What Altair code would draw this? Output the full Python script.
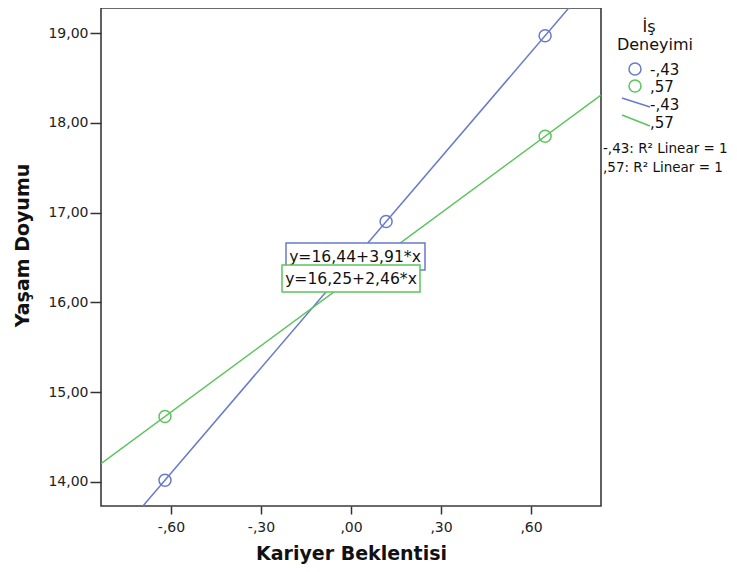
import altair as alt
import pandas as pd

# ---- data ----
groups = ["-,43", ",57"]
colors = ["#6a7acb", "#5cc45c"]
blue_x = [-0.62, 0.117, 0.647]
blue_y = [14.02, 16.90, 18.97]
green_x = [-0.62, 0.647]
green_y = [14.73, 17.85]
intercepts = [16.44, 16.25]
slopes = [3.91, 2.46]
r2 = [1, 1]
legend_title = ["İş", "Deneyimi"]
x_ticks = [-0.6, -0.3, 0.0, 0.3, 0.6]
y_ticks = [14, 15, 16, 17, 18, 19]
x_domain = [-0.8333, 0.8333]
y_domain = [13.7327, 19.2784]

FONT = "DejaVu Sans"

pts = pd.DataFrame({
    "x": blue_x + green_x,
    "y": blue_y + green_y,
    "g": [groups[0]] * len(blue_x) + [groups[1]] * len(green_x),
})

xscale = alt.Scale(domain=x_domain, nice=False, zero=False)
yscale = alt.Scale(domain=y_domain, nice=False, zero=False)
cscale = alt.Scale(domain=groups, range=colors)

x_axis = alt.Axis(
    values=x_ticks,
    labelExpr="replace(replace(format(datum.value, '.2f'), '−', '-'), '0.', ',')",
    grid=False, domain=False, tickSize=8, tickWidth=1.5, tickColor="#333",
    labelFont=FONT, labelFontSize=14, labelColor="#222", labelPadding=6,
    titleFont=FONT, titleFontSize=19, titleFontWeight="bold", titleColor="#111",
    titlePadding=10,
)
y_axis = alt.Axis(
    values=y_ticks,
    labelExpr="replace(format(datum.value, '.2f'), '.', ',')",
    grid=False, domain=False, tickSize=11, tickWidth=1.5, tickColor="#333",
    labelFont=FONT, labelFontSize=14, labelColor="#222", labelPadding=2,
    titleFont=FONT, titleFontSize=19, titleFontWeight="bold", titleColor="#111",
    titlePadding=15, titleY=237,
)

lines = alt.Chart(pts).transform_regression(
    "x", "y", groupby=["g"], extent=x_domain
).mark_line(clip=True, strokeWidth=1.5).encode(
    x=alt.X("x:Q", scale=xscale, axis=x_axis, title="Kariyer Beklentisi"),
    y=alt.Y("y:Q", scale=yscale, axis=y_axis, title="Yaşam Doyumu"),
    stroke=alt.Stroke("g:N", scale=cscale, legend=None),
)

points = alt.Chart(pts).mark_point(
    shape="circle", filled=False, size=144, strokeWidth=1.5, opacity=1
).encode(
    x=alt.X("x:Q", scale=xscale),
    y=alt.Y("y:Q", scale=yscale),
    color=alt.Color("g:N", scale=cscale, legend=None),
)

# regression equation labels
eq_labels = [f"y={a:.2f}+{b:.2f}*x".replace(".", ",") for a, b in zip(intercepts, slopes)]
box_px = [(185, 324, 235, 262), (181, 319, 257, 284)]
txt_px = [(254, 249), (250, 271)]

ann_layers = []
for lab, col, (bx1, bx2, by1, by2), (tx, ty) in zip(eq_labels, colors, box_px, txt_px):
    d = pd.DataFrame({"t": [lab]})
    box = alt.Chart(d).mark_rect(fill="white", stroke=col, strokeWidth=1.5).encode(
        x=alt.value(bx1), x2=alt.value(bx2), y=alt.value(by1), y2=alt.value(by2))
    txt = alt.Chart(d).mark_text(font=FONT, fontSize=15.6, color="#111",
                                 align="center", baseline="middle").encode(
        x=alt.value(tx), y=alt.value(ty), text="t:N")
    ann_layers += [box, txt]

# legend (drawn outside the plot area, to the right)
leg_layers = []
for t, bx, by in zip(legend_title, [548, 554], [24, 41.5]):
    leg_layers.append(alt.Chart(pd.DataFrame({"t": [t]})).mark_text(
        font=FONT, fontSize=16, color="#111", align="center", baseline="alphabetic"
    ).encode(x=alt.value(bx), y=alt.value(by), text="t:N"))
for g, c, cy, ly in zip(groups, colors, [61, 78], [67, 84]):
    d = pd.DataFrame({"t": [g]})
    leg_layers.append(alt.Chart(d).mark_point(
        shape="circle", filled=False, size=144, strokeWidth=1.5, color=c, opacity=1
    ).encode(x=alt.value(534), y=alt.value(cy)))
    leg_layers.append(alt.Chart(d).mark_text(
        font=FONT, fontSize=15, color="#111", align="left", baseline="alphabetic"
    ).encode(x=alt.value(549), y=alt.value(ly), text="t:N"))
for g, c, (y1, y2), ly in zip(groups, colors, [(90, 99), (107, 118)], [102, 120]):
    d = pd.DataFrame({"t": [g]})
    leg_layers.append(alt.Chart(d).mark_rule(strokeWidth=1.5, color=c).encode(
        x=alt.value(521), x2=alt.value(549), y=alt.value(y1), y2=alt.value(y2)))
    leg_layers.append(alt.Chart(d).mark_text(
        font=FONT, fontSize=15, color="#111", align="left", baseline="alphabetic"
    ).encode(x=alt.value(549), y=alt.value(ly), text="t:N"))

# R² notes
r2_labels = [f"{g}: R² Linear = {v}" for g, v in zip(groups, r2)]
for lab, ty in zip(r2_labels, [145, 164]):
    d = pd.DataFrame({"t": [lab]})
    leg_layers.append(alt.Chart(d).mark_text(
        font=FONT, fontSize=13.5, color="#111", align="left", baseline="alphabetic"
    ).encode(x=alt.value(502), y=alt.value(ty), text="t:N"))

chart = alt.layer(lines, points, *ann_layers, *leg_layers).properties(
    width=500, height=498,
    autosize=alt.AutoSizeParams(type="none"),
    padding={"left": 93, "top": 0, "right": 128, "bottom": 58},
    background="white",
).configure_view(stroke="#3a3a3a", strokeWidth=1.6)

chart.save("out.html", embed_options={"renderer": "svg", "actions": False})
